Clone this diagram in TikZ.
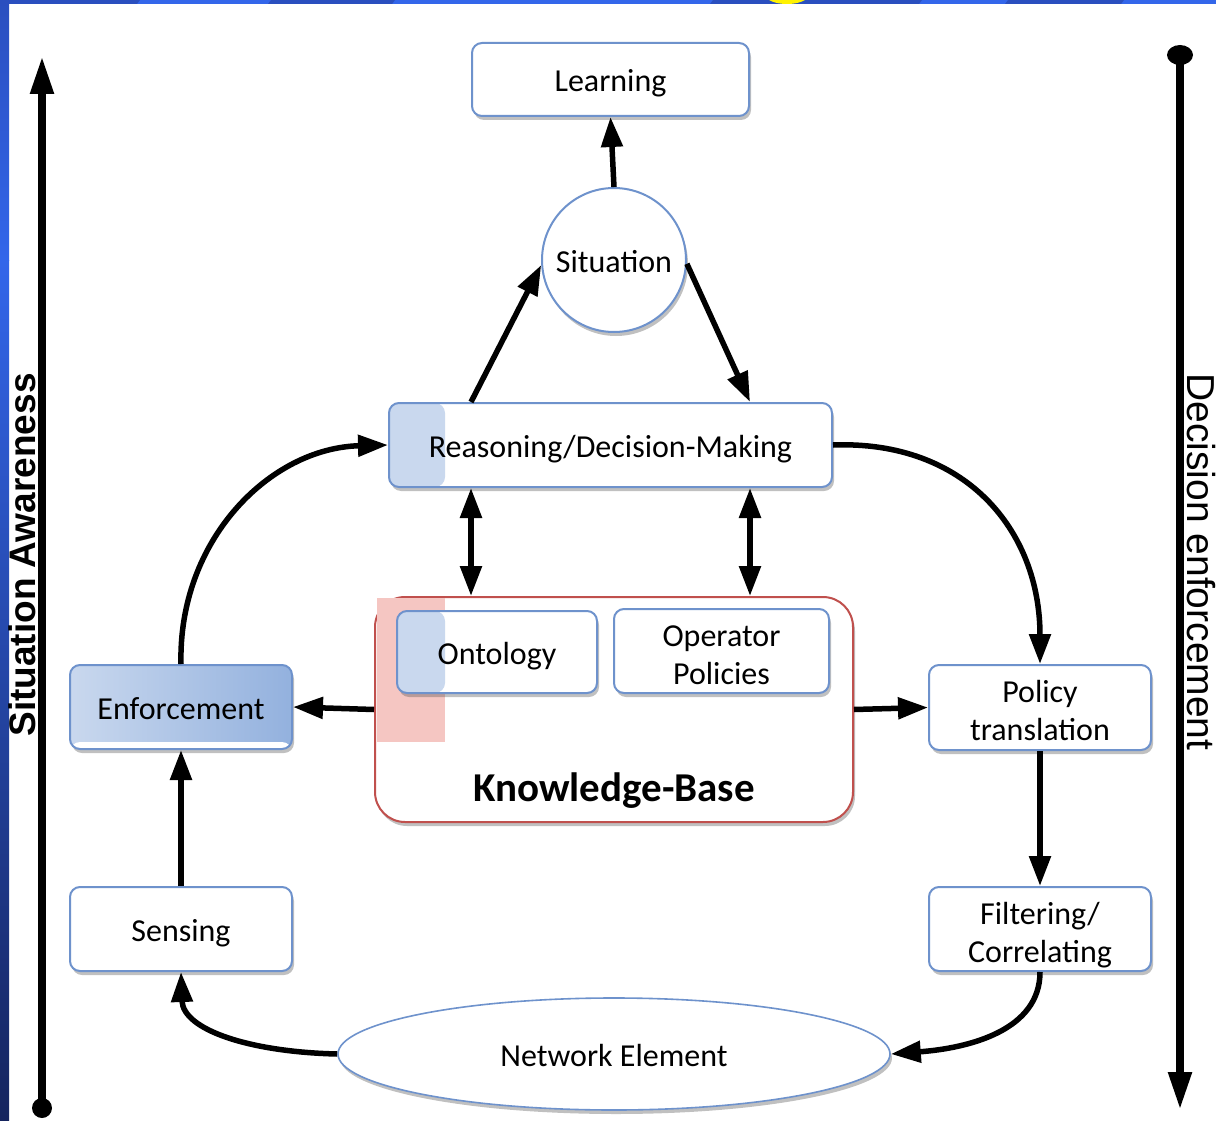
\documentclass[tikz,border=0pt]{standalone}
\usepackage{fontspec}
\setmainfont{Carlito}
\newfontfamily\sidefont{Liberation Sans}
\usetikzlibrary{arrows.meta,shadows,shapes.geometric,calc}

\definecolor{boxline}{HTML}{6E92CC}
\definecolor{paleblue}{HTML}{C9D8EE}
\definecolor{midblue}{HTML}{93B1DE}
\definecolor{kbred}{HTML}{C0504D}
\definecolor{kbpink}{HTML}{F5C6C2}
\definecolor{stripdark}{HTML}{2A4FBF}
\definecolor{striplight}{HTML}{3366EA}
\definecolor{navy}{HTML}{15245E}

% raises the first line of a two-line label
\newcommand\firstlinestrut{\rule{0pt}{1.12em}}

\begin{document}
\begin{tikzpicture}[x=1pt,y=-1pt,
  txt/.style={font=\fontsize{32}{38}\selectfont, align=center,
              execute at begin node={\rule{0pt}{0.97em}},
              execute at end node={\rule[-0.22em]{0pt}{0.22em}}},
  twoline/.style={execute at begin node={}, execute at end node={}},
  shad/.style={drop shadow={shadow xshift=2pt, shadow yshift=-4pt, opacity=0.35, fill=black!70}},
  box/.style={txt, draw=boxline, line width=2pt, fill=white, rounded corners=10pt,
              inner sep=0pt, shad},
  circ/.style={txt, circle, draw=boxline, line width=2pt, fill=white, inner sep=0pt,
               minimum size=144pt, shad},
  oval/.style={txt, ellipse, draw=boxline, line width=1.6pt, fill=white, inner sep=0pt,
               minimum width=552pt, minimum height=112pt, shad},
  kbbox/.style={draw=kbred, line width=2pt, fill=white, rounded corners=30pt,
                minimum width=478pt, minimum height=225pt, inner sep=0pt, shad},
  arr/.style={line width=5.5pt, -{Triangle[length=30pt,width=21pt]}},
  darr/.style={line width=5.5pt, {Triangle[length=30pt,width=21pt]}-{Triangle[length=30pt,width=21pt]}},
  axis/.style={line width=8pt},
]
\useasboundingbox (0,0) rectangle (1216,1121);
\fill[white] (0,0) rectangle (1216,1121);

% frame strips
\shade[top color=stripdark, bottom color=striplight] (0,0) rectangle (9,260);
\shade[top color=striplight, bottom color=navy] (0,260) rectangle (9,1121);
\fill[striplight] (0,0) rectangle (1216,4);
\foreach \a/\b in {0/140, 271/395, 713/922, 1008/1124}
  \fill[stripdark] (\a,0) -- (\b,0) -- (\b-3,4) -- (\a-3,4) -- cycle;
\begin{scope}
  \clip (700,0) rectangle (830,4);
  \draw[yellow, line width=4pt] (787,-6) ellipse (20pt and 8pt);
\end{scope}

% side axes
\coordinate (la0) at (42,1108);
\coordinate (la1) at (42,56);
\draw[axis, -{Triangle[length=38pt,width=22pt]}] (la0) -- (la1);
\fill (la0) circle (10pt);
\coordinate (ra0) at (1180,55);
\coordinate (ra1) at (1180,1110);
\draw[axis, -{Triangle[length=38pt,width=22pt]}] (ra0) -- (ra1);
\fill (ra0) ellipse (13pt and 10pt);

\node[font=\sidefont\bfseries\fontsize{37}{37}\selectfont, rotate=90] (sa) at (22,555) {Situation Awareness};
\node[font=\sidefont\fontsize{39}{39}\selectfont, rotate=-90] (de) at (1201,562) {Decision enforcement};

% nodes
\node[box, minimum width=277pt, minimum height=73pt] (learn) at (610.5,79.5) {Learning};
\node[circ] (sit) at (614,260) {Situation};
\node[box, minimum width=443pt, minimum height=84pt,
      path picture={\fill[paleblue] (path picture bounding box.south west) rectangle ([xshift=56pt]path picture bounding box.north west);}]
      (reason) at (610.5,445) {Reasoning/Decision-Making};

\node[kbbox] (kb) at (614,709.5) {};
\fill[kbpink] (377,598) rectangle (445,742);
\node[font=\bfseries\fontsize{41}{41}\selectfont] (kbt) at (614,791) {Knowledge-Base};
\node[box, minimum width=200pt, minimum height=82pt,
      path picture={\fill[paleblue] (path picture bounding box.south west) rectangle ([xshift=48pt]path picture bounding box.north west);}]
      (onto) at (497,652) {Ontology};
\node[box, twoline, minimum width=215pt, minimum height=84pt] (oper) at (721.5,651) {\firstlinestrut Operator\\Policies};

\node[box, minimum width=222pt, minimum height=84pt, left color=paleblue, right color=midblue,
      path picture={\fill[white] (path picture bounding box.south west) rectangle ([yshift=7pt]path picture bounding box.south east);}]
      (enf) at (181,707) {Enforcement};
\node[box, minimum width=222pt, minimum height=84pt] (sens) at (181,929) {Sensing};
\node[box, twoline, minimum width=222pt, minimum height=85pt] (pol) at (1040,707.5) {\firstlinestrut Policy\\translation};
\node[box, twoline, minimum width=222pt, minimum height=84pt] (filt) at (1040,929) {\firstlinestrut Filtering/\\Correlating};
\node[oval] (net) at (614,1054) {Network Element};

% connectors
\draw[arr] (sit.north) -- (learn.south);
\draw[arr] (reason.north -| learn.west) -- (sit.184);
\draw[arr] (sit.357) -- (reason.north -| learn.east);
\draw[darr] (reason.south -| learn.west) -- (kb.north -| learn.west);
\draw[darr] (reason.south -| learn.east) -- (kb.north -| learn.east);
\draw[arr] (reason.east) .. controls (965,440) and (1040,530) .. (pol.north);
\draw[arr] (enf.north) .. controls (178,540) and (270,448) .. (reason.west);
\draw[arr] (kb.west) -- (enf.east);
\draw[arr] (kb.east) -- (pol.west);
\draw[arr] (pol.south) -- (filt.north);
\draw[arr] (sens.north) -- (enf.south);
\draw[arr] (filt.south) .. controls (1040,1030) and (970,1048) .. (net.east);
\draw[arr] (net.west) .. controls (250,1052) and (183,1030) .. (sens.south);
\end{tikzpicture}
\end{document}
